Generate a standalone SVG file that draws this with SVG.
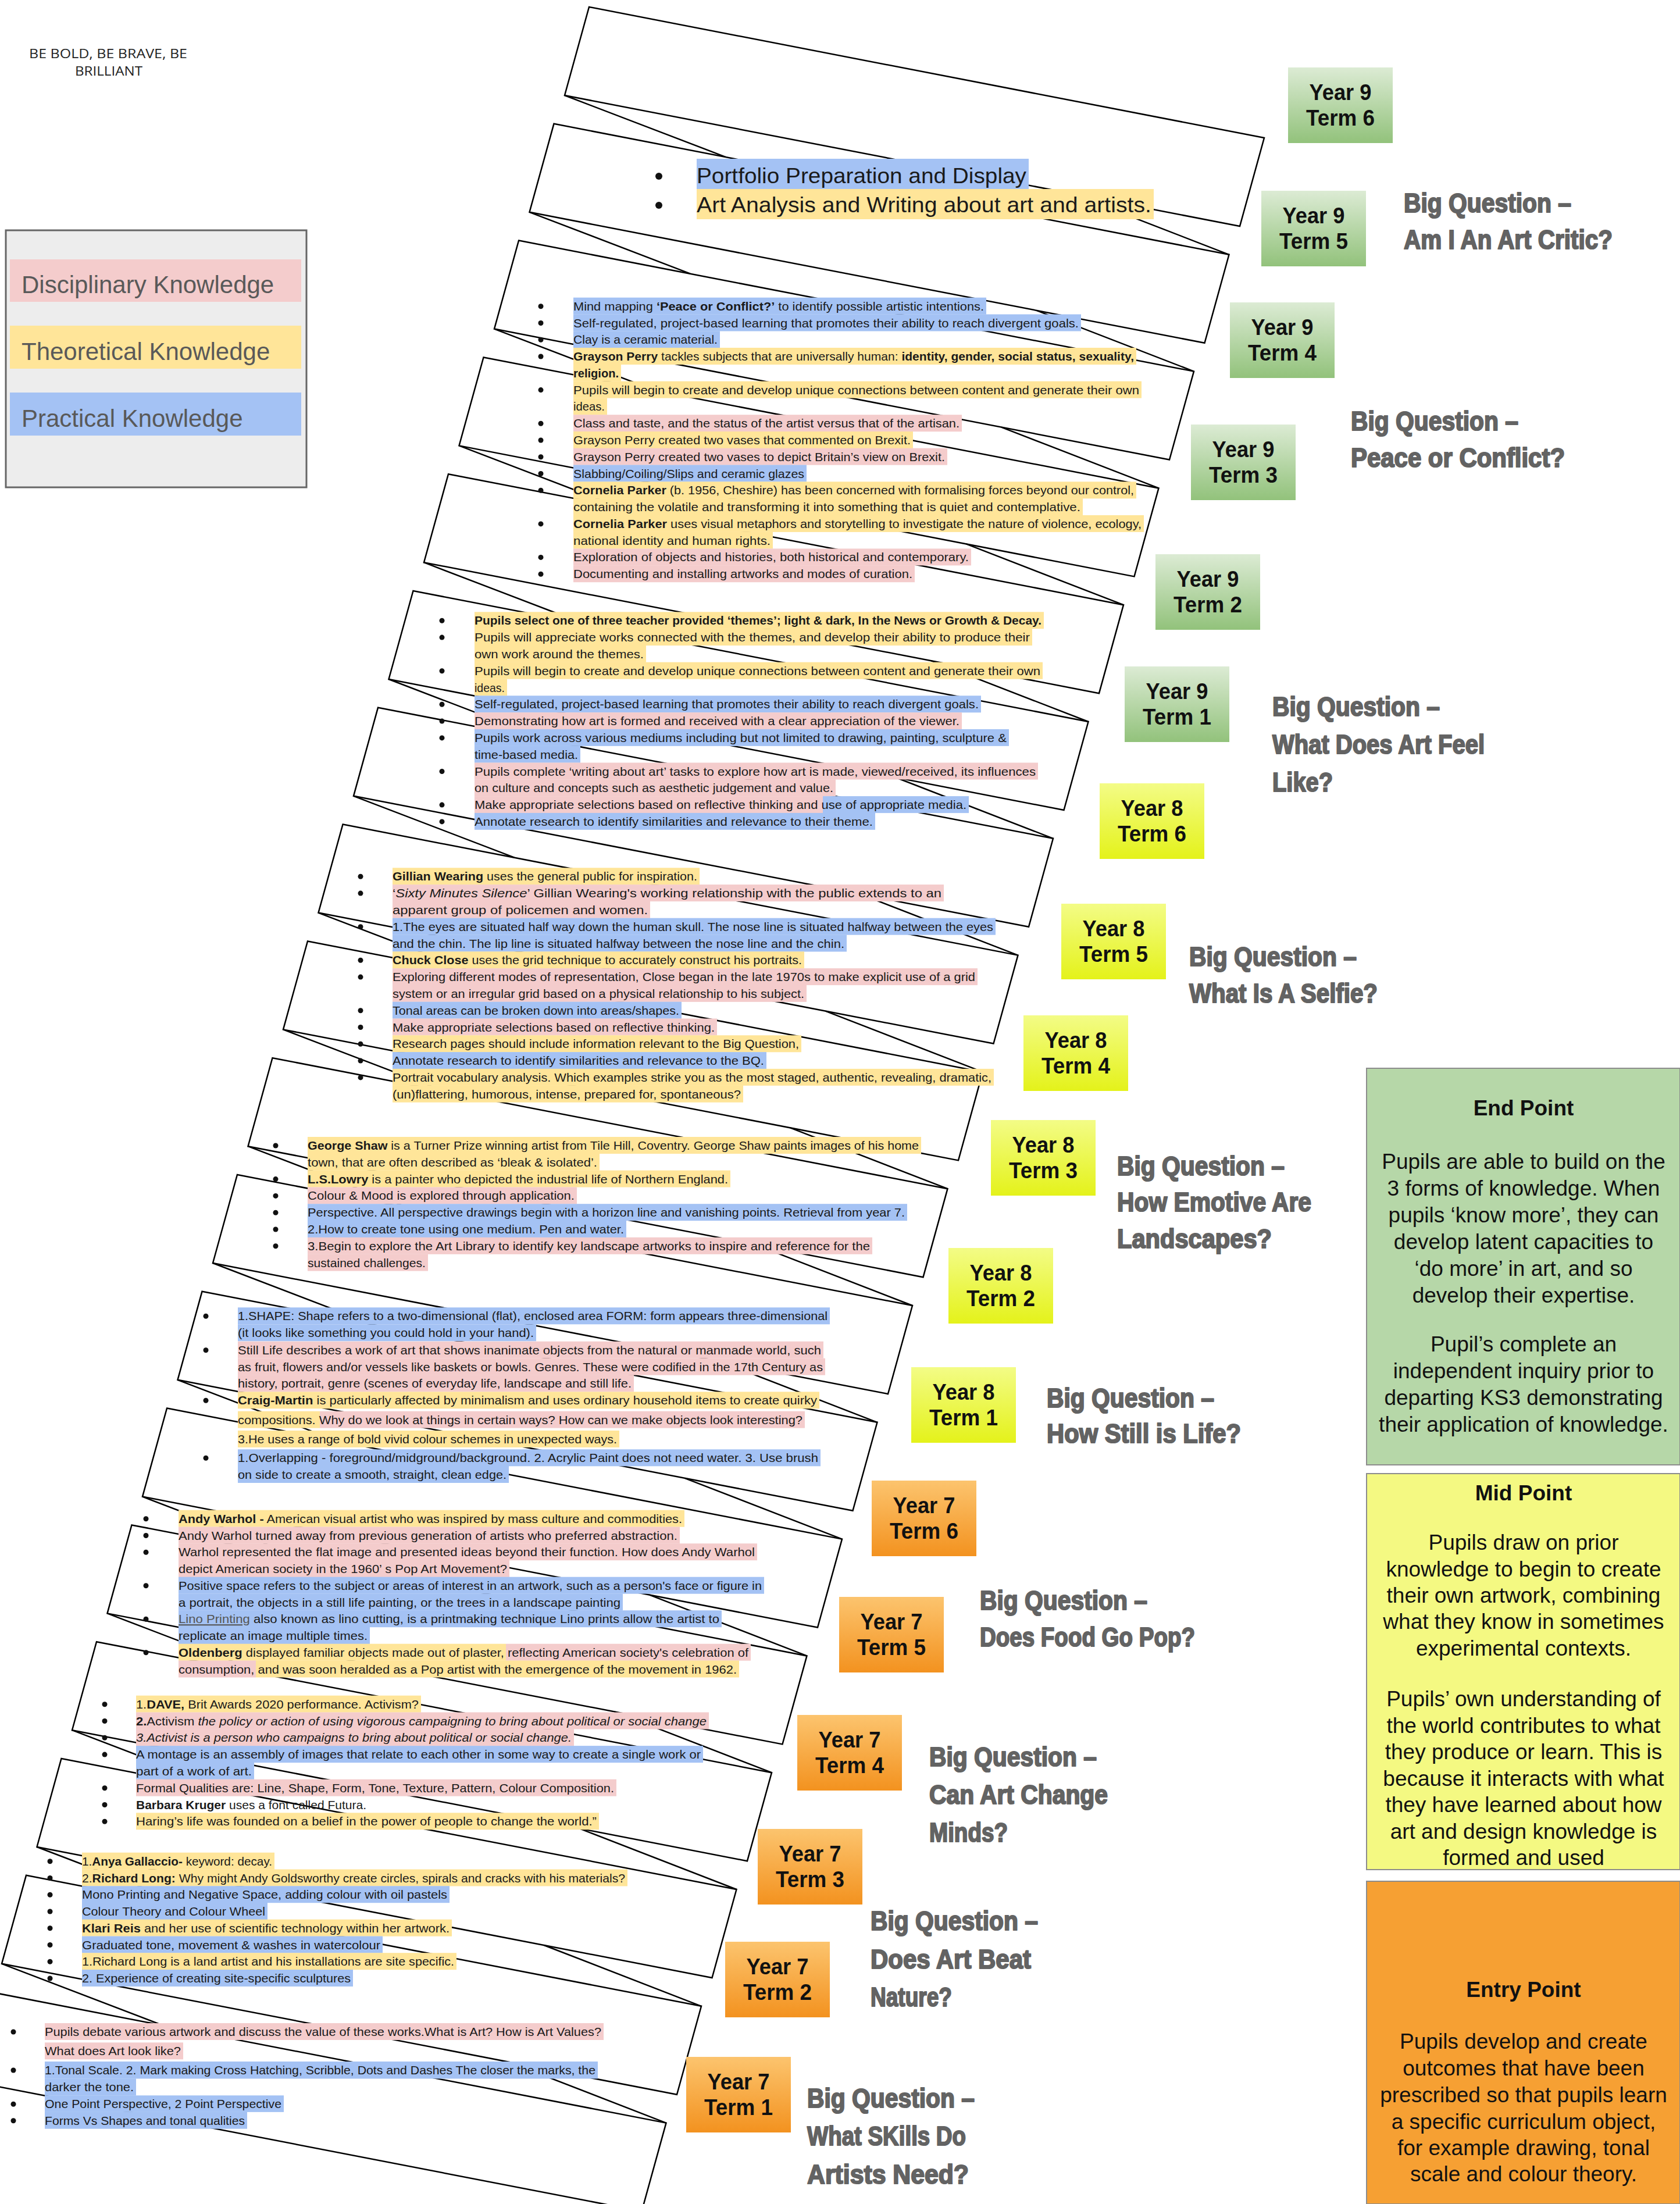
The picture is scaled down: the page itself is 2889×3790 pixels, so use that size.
<svg xmlns="http://www.w3.org/2000/svg" width="2889" height="3790" viewBox="0 0 2889 3790">
<defs>
<linearGradient id="g9" x1="0" y1="0" x2="0" y2="1"><stop offset="0" stop-color="#dcebd4"/><stop offset="1" stop-color="#92c27b"/></linearGradient>
<linearGradient id="g8" x1="0" y1="0" x2="0" y2="1"><stop offset="0" stop-color="#f3fc86"/><stop offset="1" stop-color="#e4f21a"/></linearGradient>
<linearGradient id="g7" x1="0" y1="0" x2="0" y2="1"><stop offset="0" stop-color="#fcc46e"/><stop offset="1" stop-color="#f3921f"/></linearGradient>
<path id="sheet" d="M-1161,-225 L0,0 L-42,152 L-1203,-73 Z"/>
<path id="fold" d="M-1203,-73 L-926.5,32.8 M-331,96 L-60.5,200.8"/>
</defs>
<style>
.sh{fill:none;stroke:#000;stroke-width:2.5;stroke-linejoin:miter}
.tx{font-family:"Liberation Sans Narrow","Liberation Sans",Arial,sans-serif;font-size:21px;fill:#1a1a1a}
.b{font-weight:bold}
.i{font-style:italic}
.hp{fill:#f4cccc}
.hy{fill:#ffe599}
.hb{fill:#a4c2f4}
.bul{fill:#111}
.yt{font-family:"Liberation Sans",Arial,sans-serif;font-weight:bold;font-size:38px;text-anchor:middle;fill:#111}
.bq{font-family:"Liberation Sans",Arial,sans-serif;font-weight:bold;font-size:46px;fill:#636363;stroke:#636363;stroke-width:2.2;stroke-linejoin:round}
.pt{font-family:"Liberation Sans",Arial,sans-serif;font-size:37px;text-anchor:middle;fill:#111}
.lg{font-family:"Liberation Sans",Arial,sans-serif;font-size:42px;fill:#595959}
.pf{font-family:"Liberation Sans",Arial,sans-serif;font-size:36px;fill:#1a1a1a}
.mo{font-family:"Open Sans","Liberation Sans",sans-serif;font-size:21px;fill:#222}
</style>
<rect width="2889" height="3790" fill="#fff"/>

<!-- sheets -->
<g id="sheets" class="sh">
<use href="#sheet" x="2174" y="237"/>
<use href="#sheet" x="2113.5" y="437.8"/>
<use href="#sheet" x="2053" y="638.6"/>
<use href="#sheet" x="1992.5" y="839.4"/>
<use href="#sheet" x="1932" y="1040.2"/>
<use href="#sheet" x="1871.5" y="1241"/>
<use href="#sheet" x="1811" y="1441.8"/>
<use href="#sheet" x="1750.5" y="1642.6"/>
<use href="#sheet" x="1690" y="1843.4"/>
<use href="#sheet" x="1629.5" y="2044.2"/>
<use href="#sheet" x="1569" y="2245"/>
<use href="#sheet" x="1508.5" y="2445.8"/>
<use href="#sheet" x="1448" y="2646.6"/>
<use href="#sheet" x="1387.5" y="2847.4"/>
<use href="#sheet" x="1327" y="3048.2"/>
<use href="#sheet" x="1266.5" y="3249"/>
<use href="#sheet" x="1206" y="3449.8"/>
<use href="#sheet" x="1145.5" y="3650.6"/>
</g>
<g id="connectors" class="sh">
<use href="#fold" x="2174" y="237"/>
<use href="#fold" x="2113.5" y="437.8"/>
<use href="#fold" x="2053" y="638.6"/>
<use href="#fold" x="1992.5" y="839.4"/>
<use href="#fold" x="1932" y="1040.2"/>
<use href="#fold" x="1871.5" y="1241"/>
<use href="#fold" x="1811" y="1441.8"/>
<use href="#fold" x="1750.5" y="1642.6"/>
<use href="#fold" x="1690" y="1843.4"/>
<use href="#fold" x="1629.5" y="2044.2"/>
<use href="#fold" x="1569" y="2245"/>
<use href="#fold" x="1508.5" y="2445.8"/>
<use href="#fold" x="1448" y="2646.6"/>
<use href="#fold" x="1387.5" y="2847.4"/>
<use href="#fold" x="1327" y="3048.2"/>
<use href="#fold" x="1266.5" y="3249"/>
<use href="#fold" x="1206" y="3449.8"/>
</g>

<!-- header text -->
<g id="motto">
<text class="mo" x="50" y="100" textLength="272" lengthAdjust="spacingAndGlyphs">BE BOLD, BE BRAVE, BE</text>
<text class="mo" x="129" y="130" textLength="116" lengthAdjust="spacingAndGlyphs">BRILLIANT</text>
</g>

<!-- legend -->
<g id="legend">
<rect x="10" y="396" width="517" height="442" fill="#ededed" stroke="#666" stroke-width="3"/>
<rect x="17" y="446" width="501" height="73" class="hp"/>
<rect x="17" y="560" width="501" height="74" class="hy"/>
<rect x="17" y="675" width="501" height="74" class="hb"/>
<text class="lg" x="37" y="504">Disciplinary Knowledge</text>
<text class="lg" x="37" y="619">Theoretical Knowledge</text>
<text class="lg" x="37" y="734">Practical Knowledge</text>
</g>

<!-- Year 9 Term 5 content -->
<g id="y9t5-text">
<rect x="1198" y="273" width="571" height="52" class="hb"/>
<rect x="1198" y="325" width="786" height="52" class="hy"/>
<circle cx="1133" cy="303" r="6" class="bul"/>
<circle cx="1133" cy="353" r="6" class="bul"/>
<text class="pf" x="1198" y="315" textLength="567" lengthAdjust="spacingAndGlyphs">Portfolio Preparation and Display</text>
<text class="pf" x="1198" y="365" textLength="782" lengthAdjust="spacingAndGlyphs">Art Analysis and Writing about art and artists.</text>
</g>

<!-- Block A: Year 9 Terms 3-4 -->
<g id="y9t4-text">
<rect x="986" y="511.7" width="710" height="29" class="hb"/>
<rect x="986" y="540.5" width="873" height="29" class="hb"/>
<rect x="986" y="569.3" width="252" height="29" class="hb"/>
<rect x="986" y="598" width="968" height="29" class="hy"/>
<rect x="986" y="626.8" width="82" height="29" class="hy"/>
<rect x="986" y="655.6" width="977" height="29" class="hy"/>
<rect x="986" y="684.4" width="58" height="29" class="hy"/>
<rect x="986" y="713.2" width="668" height="29" class="hp"/>
<rect x="986" y="742" width="584" height="29" class="hy"/>
<rect x="986" y="770.7" width="643" height="29" class="hp"/>
<rect x="986" y="799.5" width="401" height="29" class="hb"/>
<rect x="986" y="828.3" width="968" height="29" class="hy"/>
<rect x="986" y="857.1" width="876" height="29" class="hy"/>
<rect x="986" y="885.9" width="981" height="29" class="hy"/>
<rect x="986" y="914.6" width="343" height="29" class="hy"/>
<rect x="986" y="943.4" width="684" height="29" class="hp"/>
<rect x="986" y="972.2" width="587" height="29" class="hp"/>
<g class="bul"><circle cx="930" cy="526.7" r="4.5"/><circle cx="930" cy="555.5" r="4.5"/><circle cx="930" cy="584.3" r="4.5"/><circle cx="930" cy="613" r="4.5"/><circle cx="930" cy="670.6" r="4.5"/><circle cx="930" cy="728.2" r="4.5"/><circle cx="930" cy="757" r="4.5"/><circle cx="930" cy="785.7" r="4.5"/><circle cx="930" cy="814.5" r="4.5"/><circle cx="930" cy="843.3" r="4.5"/><circle cx="930" cy="900.9" r="4.5"/><circle cx="930" cy="958.4" r="4.5"/><circle cx="930" cy="987.2" r="4.5"/></g>
<text class="tx" x="986" y="533.7" textLength="706" lengthAdjust="spacingAndGlyphs">Mind mapping <tspan class="b">‘Peace or Conflict?’</tspan> to identify possible artistic intentions.</text>
<text class="tx" x="986" y="562.5" textLength="869" lengthAdjust="spacingAndGlyphs">Self-regulated, project-based learning that promotes their ability to reach divergent goals.</text>
<text class="tx" x="986" y="591.3" textLength="248" lengthAdjust="spacingAndGlyphs">Clay is a ceramic material.</text>
<text class="tx" x="986" y="620" textLength="964" lengthAdjust="spacingAndGlyphs"><tspan class="b">Grayson Perry</tspan> tackles subjects that are universally human: <tspan class="b">identity, gender, social status, sexuality,</tspan></text>
<text class="tx b" x="986" y="648.8" textLength="78" lengthAdjust="spacingAndGlyphs">religion.</text>
<text class="tx" x="986" y="677.6" textLength="973" lengthAdjust="spacingAndGlyphs">Pupils will begin to create and develop unique connections between content and generate their own</text>
<text class="tx" x="986" y="706.4" textLength="54" lengthAdjust="spacingAndGlyphs">ideas.</text>
<text class="tx" x="986" y="735.2" textLength="664" lengthAdjust="spacingAndGlyphs">Class and taste, and the status of the artist versus that of the artisan.</text>
<text class="tx" x="986" y="764" textLength="580" lengthAdjust="spacingAndGlyphs">Grayson Perry created two vases that commented on Brexit.</text>
<text class="tx" x="986" y="792.7" textLength="639" lengthAdjust="spacingAndGlyphs">Grayson Perry created two vases to depict Britain’s view on Brexit.</text>
<text class="tx" x="986" y="821.5" textLength="397" lengthAdjust="spacingAndGlyphs">Slabbing/Coiling/Slips and ceramic glazes</text>
<text class="tx" x="986" y="850.3" textLength="964" lengthAdjust="spacingAndGlyphs"><tspan class="b">Cornelia Parker</tspan> (b. 1956, Cheshire) has been concerned with formalising forces beyond our control,</text>
<text class="tx" x="986" y="879.1" textLength="872" lengthAdjust="spacingAndGlyphs">containing the volatile and transforming it into something that is quiet and contemplative.</text>
<text class="tx" x="986" y="907.9" textLength="977" lengthAdjust="spacingAndGlyphs"><tspan class="b">Cornelia Parker</tspan>  uses visual metaphors and storytelling to investigate the nature of violence, ecology,</text>
<text class="tx" x="986" y="936.6" textLength="339" lengthAdjust="spacingAndGlyphs">national identity and human rights.</text>
<text class="tx" x="986" y="965.4" textLength="680" lengthAdjust="spacingAndGlyphs">Exploration of objects and histories, both historical and contemporary.</text>
<text class="tx" x="986" y="994.2" textLength="583" lengthAdjust="spacingAndGlyphs">Documenting and installing artworks and modes of curation.</text>
</g>

<!-- Block B: Year 9 Terms 1-2 -->
<g id="y9t1-text">
<rect x="816" y="1052.3" width="979" height="29" class="hy"/>
<rect x="816" y="1081.1" width="959" height="29" class="hy"/>
<rect x="816" y="1109.9" width="295" height="29" class="hy"/>
<rect x="816" y="1138.7" width="977" height="29" class="hy"/>
<rect x="816" y="1167.5" width="56" height="29" class="hy"/>
<rect x="816" y="1196.3" width="871" height="29" class="hb"/>
<rect x="816" y="1225.1" width="838" height="29" class="hp"/>
<rect x="816" y="1253.9" width="919" height="29" class="hb"/>
<rect x="816" y="1282.7" width="182" height="29" class="hb"/>
<rect x="816" y="1311.5" width="969" height="29" class="hp"/>
<rect x="816" y="1340.3" width="621" height="29" class="hp"/>
<rect x="816" y="1369.1" width="599" height="29" class="hp"/>
<rect x="1415" y="1369.1" width="251" height="29" class="hb"/>
<rect x="816" y="1397.9" width="689" height="29" class="hb"/>
<g class="bul"><circle cx="760" cy="1067.3" r="4.5"/><circle cx="760" cy="1096.1" r="4.5"/><circle cx="760" cy="1153.7" r="4.5"/><circle cx="760" cy="1211.3" r="4.5"/><circle cx="760" cy="1240.1" r="4.5"/><circle cx="760" cy="1268.9" r="4.5"/><circle cx="760" cy="1326.5" r="4.5"/><circle cx="760" cy="1384.1" r="4.5"/><circle cx="760" cy="1412.9" r="4.5"/></g>
<text class="tx b" x="816" y="1074.3" textLength="975" lengthAdjust="spacingAndGlyphs">Pupils select one of three teacher provided ‘themes’; light &amp; dark, In the News or Growth &amp; Decay.</text>
<text class="tx" x="816" y="1103.1" textLength="955" lengthAdjust="spacingAndGlyphs">Pupils will appreciate works connected with the themes, and  develop their ability to produce their</text>
<text class="tx" x="816" y="1131.9" textLength="291" lengthAdjust="spacingAndGlyphs">own work around the themes.</text>
<text class="tx" x="816" y="1160.7" textLength="973" lengthAdjust="spacingAndGlyphs">Pupils will begin to create and develop unique connections between content and generate their own</text>
<text class="tx" x="816" y="1189.5" textLength="52" lengthAdjust="spacingAndGlyphs">ideas.</text>
<text class="tx" x="816" y="1218.3" textLength="867" lengthAdjust="spacingAndGlyphs">Self-regulated, project-based learning that promotes their ability to reach divergent goals.</text>
<text class="tx" x="816" y="1247.1" textLength="834" lengthAdjust="spacingAndGlyphs">Demonstrating how art is formed and received with a clear appreciation of the viewer.</text>
<text class="tx" x="816" y="1275.9" textLength="915" lengthAdjust="spacingAndGlyphs">Pupils work across various mediums including but not limited to drawing, painting, sculpture &amp;</text>
<text class="tx" x="816" y="1304.7" textLength="178" lengthAdjust="spacingAndGlyphs">time-based media.</text>
<text class="tx" x="816" y="1333.5" textLength="965" lengthAdjust="spacingAndGlyphs">Pupils complete ‘writing about art’ tasks to explore how art is made, viewed/received, its influences</text>
<text class="tx" x="816" y="1362.3" textLength="617" lengthAdjust="spacingAndGlyphs">on culture and concepts such as aesthetic judgement and value.</text>
<text class="tx" x="816" y="1391.1" textLength="846" lengthAdjust="spacingAndGlyphs">Make appropriate selections based on reflective thinking and use of appropriate media.</text>
<text class="tx" x="816" y="1419.9" textLength="685" lengthAdjust="spacingAndGlyphs">Annotate research to identify similarities and relevance to their theme.</text>
</g>

<!-- Block C: Year 8 Terms 5-6 -->
<g id="y8t5-text">
<rect x="675" y="1492.3" width="528" height="29" class="hy"/>
<rect x="675" y="1521.1" width="948" height="29" class="hp"/>
<rect x="675" y="1549.9" width="443" height="29" class="hp"/>
<rect x="675" y="1578.7" width="1037" height="29" class="hb"/>
<rect x="675" y="1607.5" width="781" height="29" class="hb"/>
<rect x="675" y="1636.3" width="708" height="29" class="hy"/>
<rect x="675" y="1665.1" width="1006" height="29" class="hp"/>
<rect x="675" y="1693.9" width="712" height="29" class="hp"/>
<rect x="675" y="1722.7" width="497" height="29" class="hb"/>
<rect x="675" y="1751.5" width="558" height="29" class="hp"/>
<rect x="675" y="1780.3" width="703" height="29" class="hy"/>
<rect x="675" y="1809.1" width="643" height="29" class="hb"/>
<rect x="675" y="1837.9" width="1034" height="29" class="hy"/>
<rect x="675" y="1866.7" width="603" height="29" class="hy"/>
<g class="bul"><circle cx="620" cy="1507.3" r="4.5"/><circle cx="620" cy="1536.1" r="4.5"/><circle cx="620" cy="1593.7" r="4.5"/><circle cx="620" cy="1651.3" r="4.5"/><circle cx="620" cy="1680.1" r="4.5"/><circle cx="620" cy="1737.7" r="4.5"/><circle cx="620" cy="1766.5" r="4.5"/><circle cx="620" cy="1795.3" r="4.5"/><circle cx="620" cy="1824.1" r="4.5"/><circle cx="620" cy="1852.9" r="4.5"/></g>
<text class="tx" x="675" y="1514.3" textLength="524" lengthAdjust="spacingAndGlyphs"><tspan class="b">Gillian Wearing</tspan> uses the general public for inspiration.</text>
<text class="tx" x="675" y="1543.1" textLength="944" lengthAdjust="spacingAndGlyphs">‘<tspan class="i">Sixty Minutes Silence</tspan>’ Gillian Wearing's working relationship with the public extends to an</text>
<text class="tx" x="675" y="1571.9" textLength="439" lengthAdjust="spacingAndGlyphs">apparent group of policemen and women.</text>
<text class="tx" x="675" y="1600.7" textLength="1033" lengthAdjust="spacingAndGlyphs">1.The eyes are situated half way down the human skull. The nose line is situated halfway between the eyes</text>
<text class="tx" x="675" y="1629.5" textLength="777" lengthAdjust="spacingAndGlyphs">and the chin. The lip line is situated halfway between the nose line and the chin.</text>
<text class="tx" x="675" y="1658.3" textLength="704" lengthAdjust="spacingAndGlyphs"><tspan class="b">Chuck Close</tspan> uses the grid technique to accurately construct his portraits.</text>
<text class="tx" x="675" y="1687.1" textLength="1002" lengthAdjust="spacingAndGlyphs">Exploring different modes of representation, Close began in the late 1970s to make explicit use of a grid</text>
<text class="tx" x="675" y="1715.9" textLength="708" lengthAdjust="spacingAndGlyphs">system or an irregular grid based on a physical relationship to his subject.</text>
<text class="tx" x="675" y="1744.7" textLength="493" lengthAdjust="spacingAndGlyphs">Tonal areas can be broken down into areas/shapes.</text>
<text class="tx" x="675" y="1773.5" textLength="554" lengthAdjust="spacingAndGlyphs">Make appropriate selections based on reflective thinking.</text>
<text class="tx" x="675" y="1802.3" textLength="699" lengthAdjust="spacingAndGlyphs">Research pages should include information relevant to the Big Question,</text>
<text class="tx" x="675" y="1831.1" textLength="639" lengthAdjust="spacingAndGlyphs">Annotate research to identify similarities and relevance to the BQ.</text>
<text class="tx" x="675" y="1859.9" textLength="1030" lengthAdjust="spacingAndGlyphs">Portrait vocabulary analysis. Which examples strike you as the most staged, authentic, revealing, dramatic,</text>
<text class="tx" x="675" y="1888.7" textLength="599" lengthAdjust="spacingAndGlyphs">(un)flattering, humorous, intense, prepared for, spontaneous?</text>
</g>

<!-- Block D: Year 8 Terms 3-4 -->
<g id="y8t3-text">
<rect x="529" y="1955" width="1055" height="29" class="hy"/>
<rect x="529" y="1983.8" width="502" height="29" class="hy"/>
<rect x="529" y="2012.6" width="727" height="29" class="hy"/>
<rect x="529" y="2041.4" width="463" height="29" class="hp"/>
<rect x="529" y="2070.2" width="1031" height="29" class="hb"/>
<rect x="529" y="2099" width="548" height="29" class="hb"/>
<rect x="529" y="2127.8" width="971" height="29" class="hp"/>
<rect x="529" y="2156.6" width="207" height="29" class="hp"/>
<g class="bul"><circle cx="474" cy="1970" r="4.5"/><circle cx="474" cy="2027.6" r="4.5"/><circle cx="474" cy="2056.4" r="4.5"/><circle cx="474" cy="2085.2" r="4.5"/><circle cx="474" cy="2114" r="4.5"/><circle cx="474" cy="2142.8" r="4.5"/></g>
<text class="tx" x="529" y="1977" textLength="1051" lengthAdjust="spacingAndGlyphs"><tspan class="b">George Shaw</tspan> is a Turner Prize winning artist from Tile Hill, Coventry. George Shaw paints images of his home</text>
<text class="tx" x="529" y="2005.8" textLength="498" lengthAdjust="spacingAndGlyphs">town, that are often described as ‘bleak &amp; isolated’.</text>
<text class="tx" x="529" y="2034.6" textLength="723" lengthAdjust="spacingAndGlyphs"><tspan class="b">L.S.Lowry</tspan> is a painter who depicted the industrial life of Northern England.</text>
<text class="tx" x="529" y="2063.4" textLength="459" lengthAdjust="spacingAndGlyphs">Colour &amp; Mood is explored through application.</text>
<text class="tx" x="529" y="2092.2" textLength="1027" lengthAdjust="spacingAndGlyphs">Perspective. All perspective drawings begin with a horizon line and vanishing points. Retrieval from year 7.</text>
<text class="tx" x="529" y="2121" textLength="544" lengthAdjust="spacingAndGlyphs">2.How to create tone using one medium. Pen and water.</text>
<text class="tx" x="529" y="2149.8" textLength="967" lengthAdjust="spacingAndGlyphs">3.Begin to explore the Art Library to identify key landscape artworks to inspire and reference for the</text>
<text class="tx" x="529" y="2178.6" textLength="203" lengthAdjust="spacingAndGlyphs">sustained challenges.</text>
</g>

<!-- Block E: Year 8 Terms 1-2 -->
<g id="y8t1-text">
<rect x="409" y="2248.3" width="1018" height="29" class="hb"/>
<rect x="409" y="2277.3" width="513" height="29" class="hb"/>
<rect x="409" y="2306.7" width="1007" height="29" class="hp"/>
<rect x="409" y="2335.7" width="1010" height="29" class="hp"/>
<rect x="409" y="2364.3" width="681" height="29" class="hp"/>
<rect x="409" y="2393.3" width="1000" height="29" class="hy"/>
<rect x="409" y="2426.7" width="141" height="29" class="hy"/>
<rect x="550" y="2426.7" width="834" height="29" class="hp"/>
<rect x="409" y="2460" width="656" height="29" class="hy"/>
<rect x="409" y="2492.3" width="1002" height="29" class="hb"/>
<rect x="409" y="2521" width="466" height="29" class="hb"/>
<g class="bul"><circle cx="354" cy="2263.3" r="4.5"/><circle cx="354" cy="2321.7" r="4.5"/><circle cx="354" cy="2408.3" r="4.5"/><circle cx="354" cy="2507.3" r="4.5"/></g>
<text class="tx" x="409" y="2270.3" textLength="1014" lengthAdjust="spacingAndGlyphs">1.SHAPE: Shape refers to a two-dimensional (flat), enclosed area FORM: form appears three-dimensional</text>
<text class="tx" x="409" y="2299.3" textLength="509" lengthAdjust="spacingAndGlyphs">(it looks like something you could hold in your hand).</text>
<text class="tx" x="409" y="2328.7" textLength="1003" lengthAdjust="spacingAndGlyphs">Still Life describes a work of art that shows inanimate objects from the natural or manmade world, such</text>
<text class="tx" x="409" y="2357.7" textLength="1006" lengthAdjust="spacingAndGlyphs">as fruit, flowers and/or vessels like baskets or bowls. Genres. These were codified in the 17th Century as</text>
<text class="tx" x="409" y="2386.3" textLength="677" lengthAdjust="spacingAndGlyphs">history, portrait, genre (scenes of everyday life, landscape and still life.</text>
<text class="tx" x="409" y="2415.3" textLength="996" lengthAdjust="spacingAndGlyphs"><tspan class="b">Craig-Martin</tspan> is particularly affected by minimalism and uses ordinary household items to create quirky</text>
<text class="tx" x="409" y="2448.7" textLength="971" lengthAdjust="spacingAndGlyphs">compositions. Why do we look at things in certain ways? How can we make objects look interesting?</text>
<text class="tx" x="409" y="2482" textLength="652" lengthAdjust="spacingAndGlyphs">3.He uses a range of bold vivid colour schemes in unexpected ways.</text>
<text class="tx" x="409" y="2514.3" textLength="998" lengthAdjust="spacingAndGlyphs">1.Overlapping - foreground/midground/background. 2. Acrylic Paint does not need water.  3. Use brush</text>
<text class="tx" x="409" y="2543" textLength="462" lengthAdjust="spacingAndGlyphs">on side to create a smooth, straight, clean edge.</text>
</g>

<!-- Block F: Year 7 Terms 5-6 -->
<g id="y7t5-text">
<rect x="307" y="2596.7" width="870" height="29" class="hy"/>
<rect x="307" y="2625.5" width="862" height="29" class="hp"/>
<rect x="307" y="2654.2" width="995" height="29" class="hp"/>
<rect x="307" y="2683" width="569" height="29" class="hp"/>
<rect x="307" y="2711.7" width="1007" height="29" class="hb"/>
<rect x="307" y="2740.5" width="764" height="29" class="hb"/>
<rect x="307" y="2769.2" width="934" height="29" class="hb"/>
<rect x="307" y="2798" width="329" height="29" class="hb"/>
<rect x="307" y="2826.7" width="563" height="29" class="hy"/>
<rect x="870" y="2826.7" width="421" height="29" class="hp"/>
<rect x="307" y="2855.5" width="133" height="29" class="hp"/>
<rect x="440" y="2855.5" width="831" height="29" class="hy"/>
<g class="bul"><circle cx="251" cy="2611.7" r="4.5"/><circle cx="251" cy="2640.5" r="4.5"/><circle cx="251" cy="2669.2" r="4.5"/><circle cx="251" cy="2726.7" r="4.5"/><circle cx="251" cy="2784.2" r="4.5"/><circle cx="251" cy="2841.7" r="4.5"/></g>
<text class="tx" x="307" y="2618.7" textLength="866" lengthAdjust="spacingAndGlyphs"><tspan class="b">Andy Warhol -</tspan> American visual artist who was inspired by mass culture and commodities.</text>
<text class="tx" x="307" y="2647.5" textLength="858" lengthAdjust="spacingAndGlyphs">Andy Warhol turned away from previous generation of artists who preferred abstraction.</text>
<text class="tx" x="307" y="2676.2" textLength="991" lengthAdjust="spacingAndGlyphs">Warhol represented the flat image and presented ideas beyond their function. How does Andy Warhol</text>
<text class="tx" x="307" y="2705" textLength="565" lengthAdjust="spacingAndGlyphs">depict American society in the 1960’ s Pop Art Movement?</text>
<text class="tx" x="307" y="2733.7" textLength="1003" lengthAdjust="spacingAndGlyphs">Positive space refers to the subject or areas of interest in an artwork, such as a person's face or figure in</text>
<text class="tx" x="307" y="2762.5" textLength="760" lengthAdjust="spacingAndGlyphs">a portrait, the objects in a still life painting, or the trees in a landscape painting</text>
<text class="tx" x="307" y="2791.2" textLength="930" lengthAdjust="spacingAndGlyphs"><tspan fill="#555" text-decoration="underline">Lino Printing</tspan> also known as lino cutting, is a printmaking technique Lino prints allow the artist to</text>
<text class="tx" x="307" y="2820" textLength="325" lengthAdjust="spacingAndGlyphs">replicate an image multiple times.</text>
<text class="tx" x="307" y="2848.7" textLength="980" lengthAdjust="spacingAndGlyphs"><tspan class="b">Oldenberg</tspan> displayed familiar objects made out of plaster, reflecting American society's celebration of</text>
<text class="tx" x="307" y="2877.5" textLength="960" lengthAdjust="spacingAndGlyphs">consumption, and was soon heralded as a Pop artist with the emergence of the movement in 1962.</text>
</g>

<!-- Block G: Year 7 Terms 3-4 -->
<g id="y7t4-text">
<rect x="234" y="2915.7" width="490" height="29" class="hy"/>
<rect x="234" y="2944.5" width="985" height="29" class="hp"/>
<rect x="234" y="2973.3" width="753" height="29" class="hp"/>
<rect x="234" y="3002.1" width="975" height="29" class="hb"/>
<rect x="234" y="3030.9" width="203" height="29" class="hb"/>
<rect x="234" y="3059.7" width="826" height="29" class="hp"/>
<rect x="234" y="3117.3" width="796" height="29" class="hy"/>
<g class="bul"><circle cx="180" cy="2930.7" r="4.5"/><circle cx="180" cy="2959.5" r="4.5"/><circle cx="180" cy="2988.3" r="4.5"/><circle cx="180" cy="3017.1" r="4.5"/><circle cx="180" cy="3074.7" r="4.5"/><circle cx="180" cy="3103.5" r="4.5"/><circle cx="180" cy="3132.3" r="4.5"/></g>
<text class="tx" x="234" y="2937.7" textLength="486" lengthAdjust="spacingAndGlyphs">1.<tspan class="b">DAVE,</tspan> Brit Awards 2020 performance. Activism?</text>
<text class="tx" x="234" y="2966.5" textLength="981" lengthAdjust="spacingAndGlyphs"><tspan class="b">2.</tspan>Activism <tspan class="i">the policy or action of using vigorous campaigning to bring about political or social change</tspan></text>
<text class="tx i" x="234" y="2995.3" textLength="749" lengthAdjust="spacingAndGlyphs">3.Activist is a person who campaigns to bring about political or social change.</text>
<text class="tx" x="234" y="3024.1" textLength="971" lengthAdjust="spacingAndGlyphs">A montage is an assembly of images that relate to each other in some way to create a single work or</text>
<text class="tx" x="234" y="3052.9" textLength="199" lengthAdjust="spacingAndGlyphs">part of a work of art.</text>
<text class="tx" x="234" y="3081.7" textLength="822" lengthAdjust="spacingAndGlyphs">Formal Qualities are: Line, Shape, Form, Tone, Texture, Pattern, Colour Composition.</text>
<text class="tx" x="234" y="3110.5" textLength="396" lengthAdjust="spacingAndGlyphs"><tspan class="b">Barbara Kruger</tspan> uses a font called Futura.</text>
<text class="tx" x="234" y="3139.3" textLength="792" lengthAdjust="spacingAndGlyphs">Haring’s life was founded on a belief in the power of people to change the world.”</text>
</g>

<!-- Block H: Year 7 Terms 2-3 -->
<g id="y7t3-text">
<rect x="141" y="3185.7" width="331" height="29" class="hy"/>
<rect x="141" y="3214.5" width="938" height="29" class="hy"/>
<rect x="141" y="3243.2" width="632" height="29" class="hb"/>
<rect x="141" y="3272" width="319" height="29" class="hb"/>
<rect x="141" y="3300.7" width="636" height="29" class="hy"/>
<rect x="141" y="3329.5" width="517" height="29" class="hb"/>
<rect x="141" y="3358.2" width="644" height="29" class="hy"/>
<rect x="141" y="3387" width="466" height="29" class="hb"/>
<g class="bul"><circle cx="86" cy="3200.7" r="4.5"/><circle cx="86" cy="3229.5" r="4.5"/><circle cx="86" cy="3258.2" r="4.5"/><circle cx="86" cy="3287" r="4.5"/><circle cx="86" cy="3315.7" r="4.5"/><circle cx="86" cy="3344.5" r="4.5"/><circle cx="86" cy="3373.2" r="4.5"/><circle cx="86" cy="3402" r="4.5"/></g>
<text class="tx" x="141" y="3207.7" textLength="327" lengthAdjust="spacingAndGlyphs">1.<tspan class="b">Anya Gallaccio-</tspan> keyword: decay.</text>
<text class="tx" x="141" y="3236.5" textLength="934" lengthAdjust="spacingAndGlyphs">2.<tspan class="b">Richard Long:</tspan> Why might Andy Goldsworthy create circles, spirals and cracks with his materials?</text>
<text class="tx" x="141" y="3265.2" textLength="628" lengthAdjust="spacingAndGlyphs">Mono Printing and Negative Space, adding colour with oil pastels</text>
<text class="tx" x="141" y="3294" textLength="315" lengthAdjust="spacingAndGlyphs">Colour Theory and Colour Wheel</text>
<text class="tx" x="141" y="3322.7" textLength="632" lengthAdjust="spacingAndGlyphs"><tspan class="b">Klari Reis</tspan> and her use of scientific technology within her artwork.</text>
<text class="tx" x="141" y="3351.5" textLength="513" lengthAdjust="spacingAndGlyphs">Graduated tone, movement &amp; washes in watercolour</text>
<text class="tx" x="141" y="3380.2" textLength="640" lengthAdjust="spacingAndGlyphs">1.Richard Long is a land artist and his installations are site specific.</text>
<text class="tx" x="141" y="3409" textLength="462" lengthAdjust="spacingAndGlyphs">2. Experience of creating site-specific sculptures</text>
</g>

<!-- Block I: Year 7 Term 1 -->
<g id="y7t1-text">
<rect x="77" y="3479" width="961" height="29" class="hp"/>
<rect x="77" y="3512.3" width="238" height="29" class="hp"/>
<rect x="77" y="3545" width="951" height="29.5" class="hb"/>
<rect x="77" y="3574.3" width="157" height="29.2" class="hb"/>
<rect x="77" y="3603.3" width="411" height="28.6" class="hb"/>
<rect x="77" y="3631.7" width="348" height="29" class="hb"/>
<g class="bul"><circle cx="23" cy="3494" r="4.5"/><circle cx="23" cy="3560" r="4.5"/><circle cx="23" cy="3618.3" r="4.5"/><circle cx="23" cy="3646.7" r="4.5"/></g>
<text class="tx" x="77" y="3501" textLength="957" lengthAdjust="spacingAndGlyphs">Pupils debate various artwork and discuss the value of these works.What is Art? How is Art Values?</text>
<text class="tx" x="77" y="3534.3" textLength="234" lengthAdjust="spacingAndGlyphs">What does Art look like?</text>
<text class="tx" x="77" y="3567" textLength="947" lengthAdjust="spacingAndGlyphs">1.Tonal Scale. 2. Mark making Cross Hatching, Scribble, Dots and Dashes The closer the marks, the</text>
<text class="tx" x="77" y="3596.3" textLength="153" lengthAdjust="spacingAndGlyphs">darker the tone.</text>
<text class="tx" x="77" y="3625.3" textLength="407" lengthAdjust="spacingAndGlyphs">One Point Perspective, 2 Point Perspective</text>
<text class="tx" x="77" y="3653.7" textLength="344" lengthAdjust="spacingAndGlyphs">Forms Vs Shapes and tonal qualities</text>
</g>

<!-- Term boxes -->
<g id="y9t6"><rect x="2215" y="116" width="180" height="130" fill="url(#g9)"/><text class="yt" x="2305" y="172" textLength="107" lengthAdjust="spacingAndGlyphs">Year 9</text><text class="yt" x="2305" y="216" textLength="118" lengthAdjust="spacingAndGlyphs">Term 6</text></g>
<g id="y9t5"><rect x="2169" y="328" width="180" height="130" fill="url(#g9)"/><text class="yt" x="2259" y="384" textLength="107" lengthAdjust="spacingAndGlyphs">Year 9</text><text class="yt" x="2259" y="428" textLength="118" lengthAdjust="spacingAndGlyphs">Term 5</text></g>
<g id="y9t4"><rect x="2115" y="520" width="180" height="130" fill="url(#g9)"/><text class="yt" x="2205" y="576" textLength="107" lengthAdjust="spacingAndGlyphs">Year 9</text><text class="yt" x="2205" y="620" textLength="118" lengthAdjust="spacingAndGlyphs">Term 4</text></g>
<g id="y9t3"><rect x="2048" y="730" width="180" height="130" fill="url(#g9)"/><text class="yt" x="2138" y="786" textLength="107" lengthAdjust="spacingAndGlyphs">Year 9</text><text class="yt" x="2138" y="830" textLength="118" lengthAdjust="spacingAndGlyphs">Term 3</text></g>
<g id="y9t2"><rect x="1987" y="953" width="180" height="130" fill="url(#g9)"/><text class="yt" x="2077" y="1009" textLength="107" lengthAdjust="spacingAndGlyphs">Year 9</text><text class="yt" x="2077" y="1053" textLength="118" lengthAdjust="spacingAndGlyphs">Term 2</text></g>
<g id="y9t1"><rect x="1934" y="1146" width="180" height="130" fill="url(#g9)"/><text class="yt" x="2024" y="1202" textLength="107" lengthAdjust="spacingAndGlyphs">Year 9</text><text class="yt" x="2024" y="1246" textLength="118" lengthAdjust="spacingAndGlyphs">Term 1</text></g>
<g id="y8t6"><rect x="1891" y="1347" width="180" height="130" fill="url(#g8)"/><text class="yt" x="1981" y="1403" textLength="107" lengthAdjust="spacingAndGlyphs">Year 8</text><text class="yt" x="1981" y="1447" textLength="118" lengthAdjust="spacingAndGlyphs">Term 6</text></g>
<g id="y8t5"><rect x="1825" y="1554" width="180" height="130" fill="url(#g8)"/><text class="yt" x="1915" y="1610" textLength="107" lengthAdjust="spacingAndGlyphs">Year 8</text><text class="yt" x="1915" y="1654" textLength="118" lengthAdjust="spacingAndGlyphs">Term 5</text></g>
<g id="y8t4"><rect x="1760" y="1746" width="180" height="130" fill="url(#g8)"/><text class="yt" x="1850" y="1802" textLength="107" lengthAdjust="spacingAndGlyphs">Year 8</text><text class="yt" x="1850" y="1846" textLength="118" lengthAdjust="spacingAndGlyphs">Term 4</text></g>
<g id="y8t3"><rect x="1704" y="1926" width="180" height="130" fill="url(#g8)"/><text class="yt" x="1794" y="1982" textLength="107" lengthAdjust="spacingAndGlyphs">Year 8</text><text class="yt" x="1794" y="2026" textLength="118" lengthAdjust="spacingAndGlyphs">Term 3</text></g>
<g id="y8t2"><rect x="1631" y="2146" width="180" height="130" fill="url(#g8)"/><text class="yt" x="1721" y="2202" textLength="107" lengthAdjust="spacingAndGlyphs">Year 8</text><text class="yt" x="1721" y="2246" textLength="118" lengthAdjust="spacingAndGlyphs">Term 2</text></g>
<g id="y8t1"><rect x="1567" y="2351" width="180" height="130" fill="url(#g8)"/><text class="yt" x="1657" y="2407" textLength="107" lengthAdjust="spacingAndGlyphs">Year 8</text><text class="yt" x="1657" y="2451" textLength="118" lengthAdjust="spacingAndGlyphs">Term 1</text></g>
<g id="y7t6"><rect x="1499" y="2546" width="180" height="130" fill="url(#g7)"/><text class="yt" x="1589" y="2602" textLength="107" lengthAdjust="spacingAndGlyphs">Year 7</text><text class="yt" x="1589" y="2646" textLength="118" lengthAdjust="spacingAndGlyphs">Term 6</text></g>
<g id="y7t5"><rect x="1443" y="2746" width="180" height="130" fill="url(#g7)"/><text class="yt" x="1533" y="2802" textLength="107" lengthAdjust="spacingAndGlyphs">Year 7</text><text class="yt" x="1533" y="2846" textLength="118" lengthAdjust="spacingAndGlyphs">Term 5</text></g>
<g id="y7t4"><rect x="1371" y="2949" width="180" height="130" fill="url(#g7)"/><text class="yt" x="1461" y="3005" textLength="107" lengthAdjust="spacingAndGlyphs">Year 7</text><text class="yt" x="1461" y="3049" textLength="118" lengthAdjust="spacingAndGlyphs">Term 4</text></g>
<g id="y7t3"><rect x="1303" y="3145" width="180" height="130" fill="url(#g7)"/><text class="yt" x="1393" y="3201" textLength="107" lengthAdjust="spacingAndGlyphs">Year 7</text><text class="yt" x="1393" y="3245" textLength="118" lengthAdjust="spacingAndGlyphs">Term 3</text></g>
<g id="y7t2"><rect x="1247" y="3339" width="180" height="130" fill="url(#g7)"/><text class="yt" x="1337" y="3395" textLength="107" lengthAdjust="spacingAndGlyphs">Year 7</text><text class="yt" x="1337" y="3439" textLength="118" lengthAdjust="spacingAndGlyphs">Term 2</text></g>
<g id="y7t1"><rect x="1180" y="3537" width="180" height="130" fill="url(#g7)"/><text class="yt" x="1270" y="3593" textLength="107" lengthAdjust="spacingAndGlyphs">Year 7</text><text class="yt" x="1270" y="3637" textLength="118" lengthAdjust="spacingAndGlyphs">Term 1</text></g>

<!-- Big Questions -->
<g id="bq1"><text class="bq" x="2414" y="365" textLength="288" lengthAdjust="spacingAndGlyphs">Big Question –</text><text class="bq" x="2414" y="428" textLength="359" lengthAdjust="spacingAndGlyphs">Am I An Art Critic?</text></g>
<g id="bq2"><text class="bq" x="2323" y="740" textLength="288" lengthAdjust="spacingAndGlyphs">Big Question –</text><text class="bq" x="2323" y="803" textLength="368" lengthAdjust="spacingAndGlyphs">Peace or Conflict?</text></g>
<g id="bq3"><text class="bq" x="2188" y="1231" textLength="288" lengthAdjust="spacingAndGlyphs">Big Question –</text><text class="bq" x="2188" y="1296" textLength="365" lengthAdjust="spacingAndGlyphs">What Does Art Feel</text><text class="bq" x="2188" y="1361" textLength="104" lengthAdjust="spacingAndGlyphs">Like?</text></g>
<g id="bq4"><text class="bq" x="2045" y="1661" textLength="288" lengthAdjust="spacingAndGlyphs">Big Question –</text><text class="bq" x="2045" y="1724" textLength="324" lengthAdjust="spacingAndGlyphs">What Is A Selfie?</text></g>
<g id="bq5"><text class="bq" x="1921" y="2021" textLength="288" lengthAdjust="spacingAndGlyphs">Big Question –</text><text class="bq" x="1921" y="2083" textLength="334" lengthAdjust="spacingAndGlyphs">How Emotive Are</text><text class="bq" x="1921" y="2146" textLength="266" lengthAdjust="spacingAndGlyphs">Landscapes?</text></g>
<g id="bq6"><text class="bq" x="1800" y="2420" textLength="288" lengthAdjust="spacingAndGlyphs">Big Question –</text><text class="bq" x="1800" y="2481" textLength="334" lengthAdjust="spacingAndGlyphs">How Still is Life?</text></g>
<g id="bq7"><text class="bq" x="1685" y="2768" textLength="288" lengthAdjust="spacingAndGlyphs">Big Question –</text><text class="bq" x="1685" y="2831" textLength="370" lengthAdjust="spacingAndGlyphs">Does Food Go Pop?</text></g>
<g id="bq8"><text class="bq" x="1598" y="3037" textLength="288" lengthAdjust="spacingAndGlyphs">Big Question –</text><text class="bq" x="1598" y="3102" textLength="307" lengthAdjust="spacingAndGlyphs">Can Art Change</text><text class="bq" x="1598" y="3167" textLength="135" lengthAdjust="spacingAndGlyphs">Minds?</text></g>
<g id="bq9"><text class="bq" x="1497" y="3319" textLength="288" lengthAdjust="spacingAndGlyphs">Big Question –</text><text class="bq" x="1497" y="3385" textLength="276" lengthAdjust="spacingAndGlyphs">Does Art Beat</text><text class="bq" x="1497" y="3450" textLength="140" lengthAdjust="spacingAndGlyphs">Nature?</text></g>
<g id="bq10"><text class="bq" x="1388" y="3624" textLength="288" lengthAdjust="spacingAndGlyphs">Big Question –</text><text class="bq" x="1388" y="3689" textLength="273" lengthAdjust="spacingAndGlyphs">What SKills Do</text><text class="bq" x="1388" y="3755" textLength="278" lengthAdjust="spacingAndGlyphs">Artists Need?</text></g>

<!-- Right panels -->
<g id="end-point">
<rect x="2350" y="1837" width="539" height="682" fill="#b6d7a8" stroke="#8c8c8c" stroke-width="2"/>
<text class="pt" x="2620" y="1918" font-weight="bold">End Point</text>
<text class="pt" x="2620" y="2010">Pupils are able to build on the</text>
<text class="pt" x="2620" y="2056">3 forms of knowledge. When</text>
<text class="pt" x="2620" y="2102">pupils ‘know more’, they can</text>
<text class="pt" x="2620" y="2148">develop latent capacities to</text>
<text class="pt" x="2620" y="2194">‘do more’ in art, and so</text>
<text class="pt" x="2620" y="2240">develop their expertise.</text>
<text class="pt" x="2620" y="2324">Pupil’s complete an</text>
<text class="pt" x="2620" y="2370">independent inquiry prior to</text>
<text class="pt" x="2620" y="2416">departing KS3 demonstrating</text>
<text class="pt" x="2620" y="2462">their application of knowledge.</text>
</g>
<g id="mid-point">
<rect x="2350" y="2534" width="539" height="681" fill="#f4f982" stroke="#8c8c8c" stroke-width="2"/>
<text class="pt" x="2620" y="2580" font-weight="bold">Mid Point</text>
<text class="pt" x="2620" y="2665">Pupils draw on prior</text>
<text class="pt" x="2620" y="2711">knowledge to begin to create</text>
<text class="pt" x="2620" y="2756">their own artwork, combining</text>
<text class="pt" x="2620" y="2801">what they know in sometimes</text>
<text class="pt" x="2620" y="2847">experimental contexts.</text>
<text class="pt" x="2620" y="2934">Pupils’ own understanding of</text>
<text class="pt" x="2620" y="2980">the world contributes to what</text>
<text class="pt" x="2620" y="3025">they produce or learn. This is</text>
<text class="pt" x="2620" y="3071">because it interacts with what</text>
<text class="pt" x="2620" y="3116">they have learned about how</text>
<text class="pt" x="2620" y="3162">art and design knowledge is</text>
<text class="pt" x="2620" y="3207">formed and used</text>
</g>
<g id="entry-point">
<rect x="2350" y="3235" width="539" height="555" fill="#f6a033" stroke="#8c8c8c" stroke-width="2"/>
<text class="pt" x="2620" y="3434" font-weight="bold">Entry Point</text>
<text class="pt" x="2620" y="3523">Pupils develop and create</text>
<text class="pt" x="2620" y="3569">outcomes that have been</text>
<text class="pt" x="2620" y="3615">prescribed so that pupils learn</text>
<text class="pt" x="2620" y="3661">a specific curriculum object,</text>
<text class="pt" x="2620" y="3706">for example drawing, tonal</text>
<text class="pt" x="2620" y="3751">scale and colour theory.</text>
</g>
</svg>
